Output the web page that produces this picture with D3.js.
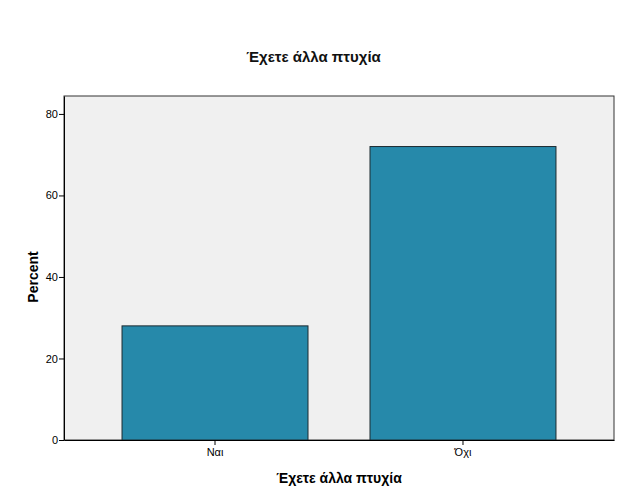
<!DOCTYPE html>
<html>
<head>
<meta charset="utf-8">
<script src="https://cdn.jsdelivr.net/npm/d3@7"></script>
<style>
  body { margin: 0; background: #fff; }
  #chart { width: 627px; height: 502px; }
</style>
</head>
<body>
<div id="chart"></div>
<script>
// Bar chart, SPSS style

let categories = ["Ναι", "Όχι"];
let percents = [28, 72];
let yTicks = [0, 20, 40, 60, 80];

let title = "Έχετε άλλα πτυχία",
    xLabel = "Έχετε άλλα πτυχία",
    yLabel = "Percent";

function barChart(div) {

    let cvs = d3.select(div);
    cvs.html(null);

    let width = 627, height = 502;
    let margin = { top: 96, right: 13, bottom: 62, left: 64 };

    let svg = cvs.append("svg")
        .attr("width", width)
        .attr("height", height);

    let x = d3.scaleBand()
        .domain(categories)
        .range([margin.left, width - margin.right])
        .paddingInner(0.25)
        .paddingOuter(0.234);

    let y = d3.scaleLinear()
        .domain([0, 84.4])
        .range([height - margin.bottom, margin.top]);

    // Plot background and frame
    svg.append("rect")
        .attr("x", margin.left)
        .attr("y", margin.top)
        .attr("width", width - margin.left - margin.right)
        .attr("height", height - margin.top - margin.bottom)
        .attr("fill", "#f0f0f0")
        .attr("stroke", "#333")
        .attr("stroke-width", 1);

    // Bars
    svg.selectAll(".bar")
        .data(percents)
        .enter().append("rect")
            .attr("x", (d, i) => x(categories[i]))
            .attr("y", d => y(d))
            .attr("width", x.bandwidth())
            .attr("height", d => y(0) - y(d))
            .attr("fill", "#2689aa")
            .attr("stroke", "#1c2a30")
            .attr("stroke-width", 1);

    // Y axis
    let yAxis = svg.append("g")
        .attr("transform", "translate(" + margin.left + ",0)")
        .call(d3.axisLeft(y).tickValues(yTicks).tickSize(5).tickSizeOuter(0));
    yAxis.select(".domain").attr("stroke", "#000");
    yAxis.selectAll("text")
        .style("font-family", "Arial, 'Liberation Sans', sans-serif")
        .style("font-size", "11px")
        .attr("x", -6);

    // X axis
    let xAxis = svg.append("g")
        .attr("transform", "translate(0," + y(0) + ")")
        .call(d3.axisBottom(x).tickSize(5).tickSizeOuter(0));
    xAxis.select(".domain").attr("stroke", "#000");
    xAxis.selectAll("text")
        .style("font-family", "Arial, 'Liberation Sans', sans-serif")
        .style("font-size", "11px")
        .attr("y", 8);

    // Title
    svg.append("text").text(title)
        .attr("x", width / 2)
        .attr("y", 62)
        .attr("text-anchor", "middle")
        .style("font-family", "Arial, 'Liberation Sans', sans-serif")
        .style("font-size", "15px")
        .style("font-weight", "bold")
        .attr("fill", "#111");

    // Axis titles
    svg.append("text").text(xLabel)
        .attr("x", (margin.left + width - margin.right) / 2)
        .attr("y", 483)
        .attr("text-anchor", "middle")
        .style("font-family", "Arial, 'Liberation Sans', sans-serif")
        .style("font-size", "14px")
        .style("font-weight", "bold");

    svg.append("text").text(yLabel)
        .attr("transform", "translate(38," + y(40) + ") rotate(-90)")
        .attr("text-anchor", "middle")
        .style("font-family", "Arial, 'Liberation Sans', sans-serif")
        .style("font-size", "14px")
        .style("font-weight", "bold");
}

barChart("#chart");
</script>
</body>
</html>
